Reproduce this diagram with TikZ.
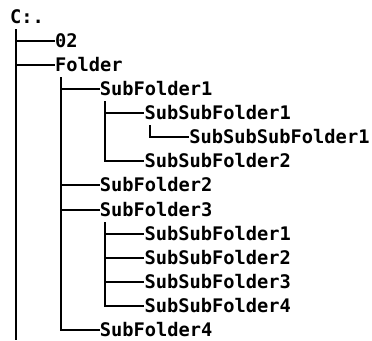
\documentclass[tikz,border=0pt]{standalone}
\usepackage{fontspec}
\newfontfamily\treefont{DejaVu Sans Mono}
\tikzset{
  lbl/.style={font=\treefont\bfseries\fontsize{18.7}{24}\selectfont, inner sep=0pt,
    text height=12.6pt, text depth=0pt, anchor=west},
  tline/.style={line width=1.9pt, line cap=butt, line join=miter}
}
\begin{document}
\begin{tikzpicture}[x=1pt,y=-1pt]
\useasboundingbox (0,0) rectangle (372,340);
\node[lbl] (root) at (10,17) {C:.};
\node[lbl] (n02) at (54.8,41) {02};
\node[lbl] (fold) at (54.8,65) {Folder};
\node[lbl] (sf1) at (99.6,89) {SubFolder1};
\node[lbl] (ssf11) at (144.4,113) {SubSubFolder1};
\node[lbl] (sssf1) at (189.2,137) {SubSubSubFolder1};
\node[lbl] (ssf12) at (144.4,161) {SubSubFolder2};
\node[lbl] (sf2) at (99.6,185) {SubFolder2};
\node[lbl] (sf3) at (99.6,210) {SubFolder3};
\node[lbl] (ssf31) at (144.4,234) {SubSubFolder1};
\node[lbl] (ssf32) at (144.4,258) {SubSubFolder2};
\node[lbl] (ssf33) at (144.4,282) {SubSubFolder3};
\node[lbl] (ssf34) at (144.4,306) {SubSubFolder4};
\node[lbl] (sf4) at (99.6,330) {SubFolder4};
% trunk tops
\coordinate (t0) at (16,29);
\coordinate (t0end) at (16,340);
\coordinate (t1) at (61,77);
\coordinate (t2a) at (105,101);
\coordinate (t2b) at (105,222);
\coordinate (t3) at (150,125);
% level 0
\draw[tline] (t0) -- (t0end);
\draw[tline] (n02.west -| t0) -- (n02.west);
\draw[tline] (fold.west -| t0) -- (fold.west);
% level 1
\draw[tline] (t1) |- (sf4.west);
\draw[tline] (sf1.west -| t1) -- (sf1.west);
\draw[tline] (sf2.west -| t1) -- (sf2.west);
\draw[tline] (sf3.west -| t1) -- (sf3.west);
% level 2 under SubFolder1
\draw[tline] (t2a) |- (ssf12.west);
\draw[tline] (ssf11.west -| t2a) -- (ssf11.west);
% level 3
\draw[tline] (t3) |- (sssf1.west);
% level 2 under SubFolder3
\draw[tline] (t2b) |- (ssf34.west);
\draw[tline] (ssf31.west -| t2b) -- (ssf31.west);
\draw[tline] (ssf32.west -| t2b) -- (ssf32.west);
\draw[tline] (ssf33.west -| t2b) -- (ssf33.west);
\end{tikzpicture}
\end{document}
